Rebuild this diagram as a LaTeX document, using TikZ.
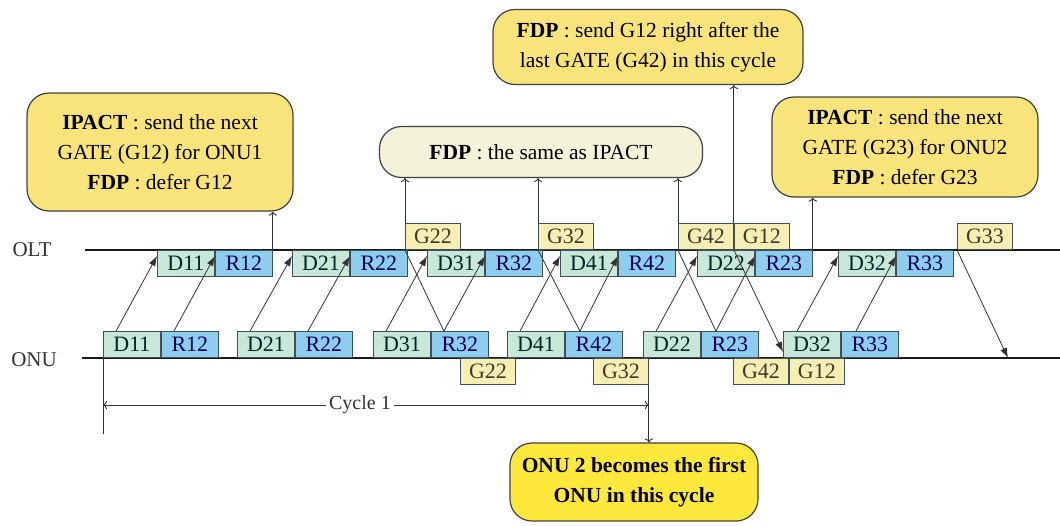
\documentclass[tikz,border=0pt]{standalone}
\usepackage{fontspec}
\setmainfont{Liberation Serif}
\usepackage{xcolor}
\usetikzlibrary{arrows.meta}
\usetikzlibrary{calc}
\usetikzlibrary{positioning}
\definecolor{dfill}{HTML}{C9E7D8}
\definecolor{rfill}{HTML}{8ECDEE}
\definecolor{gfill}{HTML}{F6EEB2}
\definecolor{slotline}{HTML}{3C5258}
\definecolor{notefill}{HTML}{F9E47C}
\definecolor{samefill}{HTML}{F5F2DA}
\definecolor{firstfill}{HTML}{FFE83C}
\tikzstyle{slot} = [draw=slotline, line width=0.9pt, minimum width=57pt, minimum height=26pt, inner sep=0pt, font=\fontsize{22}{24}\selectfont]
\tikzstyle{dslot} = [slot, fill=dfill, text=black!70!teal]
\tikzstyle{rslot} = [slot, fill=rfill, text=black!65!blue]
\tikzstyle{gslot} = [slot, minimum width=55pt, fill=gfill, text=black!75!olive]
\tikzstyle{notebox} = [draw=black!75, line width=1.2pt, rounded corners=22pt, align=center, inner sep=0pt, font=\fontsize{21.5}{30}\selectfont]
\tikzstyle{timeline} = [line width=1.4pt, black!90]
\tikzstyle{uparrow} = [line width=0.8pt, black!80, -{Latex[length=10pt,width=7pt]}]
\tikzstyle{downline} = [line width=0.8pt, black!80]
\tikzstyle{noteline} = [line width=0.9pt, black!80, -{To[length=4pt]}]

\begin{document}
\begin{tikzpicture}[x=1pt, y=-1pt]
	\useasboundingbox (0,0) rectangle (1060,525);
	
	% time lines
	\node (olt) [font=\fontsize{21}{24}\selectfont, text=black!80] at (32,250) {OLT};
	\node (onu) [font=\fontsize{21}{24}\selectfont, text=black!80] at (34,360) {ONU};
	\coordinate (oltA) at (85,250);
	\coordinate (oltB) at (1060,250);
	\coordinate (onuA) at (82,358);
	\coordinate (onuB) at (1060,358);
	\draw [timeline] (oltA) -- (oltB);
	\draw [timeline] (onuA) -- (onuB);
	
	% slots at the OLT
	\node (o-D11) [dslot, anchor=north west] at (157,250) {D11};
	\node (o-R12) [rslot, right=0pt of o-D11] {R12};
	\node (o-D21) [dslot, anchor=north west] at (292,250) {D21};
	\node (o-R22) [rslot, right=0pt of o-D21] {R22};
	\node (o-D31) [dslot, anchor=north west] at (427,250) {D31};
	\node (o-R32) [rslot, right=0pt of o-D31] {R32};
	\node (o-D41) [dslot, anchor=north west] at (560,250) {D41};
	\node (o-R42) [rslot, right=0pt of o-D41] {R42};
	\node (o-D22) [dslot, anchor=north west] at (697,250) {D22};
	\node (o-R23) [rslot, right=0pt of o-D22] {R23};
	\node (o-D32) [dslot, anchor=north west] at (838,250) {D32};
	\node (o-R33) [rslot, right=0pt of o-D32] {R33};
	\node (o-G22) [gslot, anchor=south west] at (405,250) {G22};
	\node (o-G32) [gslot, anchor=south west] at (538,250) {G32};
	\node (o-G42) [gslot, anchor=south west] at (678,250) {G42};
	\node (o-G12) [gslot, right=0pt of o-G42] {G12};
	\node (o-G33) [gslot, anchor=south west] at (957,250) {G33};
	
	% slots at the ONU
	\node (u-D11) [dslot, anchor=south west] at (103,358) {D11};
	\node (u-R12) [rslot, right=0pt of u-D11] {R12};
	\node (u-D21) [dslot, anchor=south west] at (237,358) {D21};
	\node (u-R22) [rslot, right=0pt of u-D21] {R22};
	\node (u-D31) [dslot, anchor=south west] at (373,358) {D31};
	\node (u-R32) [rslot, right=0pt of u-D31] {R32};
	\node (u-D41) [dslot, anchor=south west] at (507,358) {D41};
	\node (u-R42) [rslot, right=0pt of u-D41] {R42};
	\node (u-D22) [dslot, anchor=south west] at (643,358) {D22};
	\node (u-R23) [rslot, right=0pt of u-D22] {R23};
	\node (u-D32) [dslot, anchor=south west] at (783,358) {D32};
	\node (u-R33) [rslot, right=0pt of u-D32] {R33};
	\node (u-G22) [gslot, anchor=north west] at (460,358) {G22};
	\node (u-G32) [gslot, anchor=north west] at (593,358) {G32};
	\node (u-G42) [gslot, anchor=north west] at (733,358) {G42};
	\node (u-G12) [gslot, right=0pt of u-G42] {G12};
	
	% upstream
	\draw [uparrow] ($(u-D11.north west)+(13,0)$) -- ($(o-D11.north west)+(0,6)$);
	\draw [uparrow] ($(u-R12.north west)+(13,0)$) -- ($(o-R12.north west)+(0,6)$);
	\draw [uparrow] ($(u-D21.north west)+(13,0)$) -- ($(o-D21.north west)+(0,6)$);
	\draw [uparrow] ($(u-R22.north west)+(13,0)$) -- ($(o-R22.north west)+(0,6)$);
	\draw [uparrow] ($(u-D31.north west)+(13,0)$) -- ($(o-D31.north west)+(0,6)$);
	\draw [uparrow] ($(u-R32.north west)+(13,0)$) -- ($(o-R32.north west)+(0,6)$);
	\draw [uparrow] ($(u-D41.north west)+(13,0)$) -- ($(o-D41.north west)+(0,6)$);
	\draw [uparrow] ($(u-R42.north west)+(15,0)$) -- ($(o-R42.north west)+(0,6)$);
	\draw [uparrow] ($(u-D22.north west)+(13,0)$) -- ($(o-D22.north west)+(0,6)$);
	\draw [uparrow] ($(u-R23.north west)+(15,0)$) -- ($(o-R23.north west)+(0,6)$);
	\draw [uparrow] ($(u-D32.north west)+(14,0)$) -- ($(o-D32.north west)+(0,6)$);
	\draw [uparrow] ($(u-R33.north west)+(15,0)$) -- ($(o-R33.north west)+(0,6)$);
	
	% downstream
	\coordinate (g33end) at (1008,358);
	\draw [downline] (o-G22.south west) -- ($(u-R32.north west)+(13,0)$);
	\draw [downline] (o-G32.south west) -- ($(u-R42.north west)+(15,0)$);
	\draw [downline] (o-G42.south west) -- ($(u-R23.north west)+(15,0)$);
	\draw [uparrow] (o-G12.south west) -- ($(u-D32.south west)+(0,-6)$);
	\draw [uparrow] (o-G33.south west) -- (g33end);
	
	% notes
	\node (ipactA) [notebox, fill=notefill, minimum width=266pt, minimum height=118pt] at (160,152)
	{\textbf{IPACT} : send the next\\GATE (G12) for ONU1\\\textbf{FDP} : defer G12};
	\node (same) [notebox, fill=samefill, minimum width=323pt, minimum height=51pt] at (541,152)
	{\textbf{FDP} : the same as IPACT};
	\node (fdpG12) [notebox, fill=notefill, minimum width=310pt, minimum height=75pt] at (648,47)
	{\textbf{FDP} : send G12 right after the\\last GATE (G42) in this cycle};
	\node (ipactB) [notebox, fill=notefill, minimum width=266pt, minimum height=100pt] at (905,147)
	{\textbf{IPACT} : send the next\\GATE (G23) for ONU2\\\textbf{FDP} : defer G23};
	\node (first) [notebox, fill=firstfill, minimum width=248pt, minimum height=78pt] at (634,482)
	{\textbf{ONU 2 becomes the first}\\\textbf{ONU in this cycle}};
	
	\draw [noteline] (o-R12.north east) -- (o-R12.north east |- ipactA.south);
	\draw [noteline] (o-G22.north west) -- (o-G22.north west |- same.south);
	\draw [noteline] (o-G32.north west) -- (o-G32.north west |- same.south);
	\draw [noteline] (o-G42.north west) -- (o-G42.north west |- same.south);
	\draw [noteline] (o-G12.north west) -- (o-G12.north west |- fdpG12.south);
	\draw [noteline] (o-R23.north east) -- (o-R23.north east |- ipactB.south);
	\draw [noteline] (u-G32.south east) -- (u-G32.south east |- first.north);
	
	% cycle
	\coordinate (cycTick) at (103,434);
	\draw [line width=0.9pt, black!80] (u-D11.south west) -- (cycTick);
	\draw [line width=0.9pt, black!80, {To[length=4pt]}-{To[length=4pt]}] (u-D11.south west |- 0,405) -- (u-G32.south east |- 0,405)
	node[midway, fill=white, inner sep=3pt, font=\fontsize{20}{24}\selectfont, text=black!80, xshift=-16pt]{Cycle 1};
\end{tikzpicture}
\end{document}
